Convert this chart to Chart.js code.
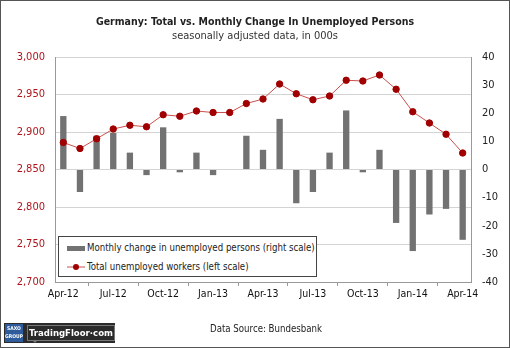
<!DOCTYPE html>
<html>
<head>
<meta charset="utf-8">
<script src="https://cdn.jsdelivr.net/npm/chart.js@4.4.1/dist/chart.umd.min.js"></script>
<style>
    html, body { margin: 0; padding: 0; background: #fff; }
    #wrap {
        position: relative; width: 510px; height: 348px; overflow: hidden;
        font-family: "DejaVu Sans Condensed", "Liberation Sans", sans-serif;
        color: #222;
    }
    #frame {
        position: absolute; left: 0; top: 0; width: 508px; height: 346px;
        border: 1px solid #555; pointer-events: none;
    }
    #title {
        position: absolute; left: 0; width: 510px; top: 15px; text-align: center;
        font-weight: bold; font-size: 10.5px;
    }
    #subtitle {
        position: absolute; left: 0; width: 510px; top: 29px; text-align: center;
        font-size: 11px; color: #333;
    }
    #legend {
        position: absolute; left: 58px; top: 236px; width: 259px; height: 41px;
        border: 1px solid #444; background: #fff; font-size: 9.6px; box-sizing: border-box;
    }
    .row { position: absolute; left: 8px; height: 14px; line-height: 14px; }
    .sym { position: absolute; left: 0; top: 0; width: 18px; height: 14px; }
    .lbl { position: absolute; left: 20px; top: 0; white-space: nowrap; }
    #source {
        position: absolute; left: 210px; top: 323px; font-size: 9.6px;
    }
    #logo {
        position: absolute; left: 4px; top: 323px; width: 111px; height: 20px; background: #2b2b2b;
    }
    #saxo {
        position: absolute; left: 1px; top: 1px; width: 18px; height: 18px; background: #2d5b9c;
        color: #fff; font-size: 5px; line-height: 8px; text-align: center; font-weight: bold;
    }
    #tf {
        position: absolute; left: 23px; top: 2px; width: 86px; height: 14px; border: 1px solid #777;
        color: #fff; font-size: 9.5px; line-height: 14px; text-align: center; font-weight: bold;
    }
    #notch {
        position: absolute; left: 28px; top: 17px; width: 0; height: 0;
        border-left: 3px solid transparent; border-right: 3px solid transparent; border-top: 3px solid #777;
    }
</style>
</head>
<body>
<div id="wrap">
    <canvas id="unemp_Chart" width="510" height="348"></canvas>
    <div id="title">Germany: Total vs. Monthly Change In Unemployed Persons</div>
    <div id="subtitle">seasonally adjusted data, in 000s</div>
    <div id="legend">
        <div class="row" style="top:4px">
            <svg class="sym"><rect x="0" y="5" width="18" height="5" fill="#727272"/></svg>
            <span class="lbl">Monthly change in unemployed persons (right scale)</span>
        </div>
        <div class="row" style="top:23px">
            <svg class="sym"><line x1="0" y1="7" x2="18" y2="7" stroke="#c9504d" stroke-width="1"/><circle cx="9" cy="7" r="3" fill="#a00000"/></svg>
            <span class="lbl">Total unemployed workers (left scale)</span>
        </div>
    </div>
    <div id="logo">
        <div id="saxo">SAXO<br>GROUP</div>
        <div id="tf">TradingFloor·com</div>
        <div id="notch"></div>
    </div>
    <div id="source">Data Source: Bundesbank</div>
    <div id="frame"></div>
</div>

<script>
// months from Apr-12 to Apr-14
const months = ["Apr-12", "May-12", "Jun-12", "Jul-12", "Aug-12", "Sep-12", "Oct-12", "Nov-12", "Dec-12",
    "Jan-13", "Feb-13", "Mar-13", "Apr-13", "May-13", "Jun-13", "Jul-13", "Aug-13", "Sep-13", "Oct-13",
    "Nov-13", "Dec-13", "Jan-14", "Feb-14", "Mar-14", "Apr-14"];

// total unemployed, thousands (left scale)
const totalUnemployed = [2886, 2878, 2891, 2904, 2909, 2907, 2923, 2921, 2928, 2926, 2926, 2938, 2944,
    2964, 2951, 2943, 2948, 2969, 2968, 2976, 2957, 2927, 2912, 2897, 2872];

// monthly change, thousands (right scale)
const monthlyChange = [19, -8, 12, 13, 6, -2, 15, -1, 6, -2, 0, 12, 7,
    18, -12, -8, 6, 21, -1, 7, -19, -29, -16, -14, -25];

const leftTicks = { min: 2700, max: 3000, step: 50 };
const rightTicks = { min: -40, max: 40, step: 10 };

const axisFont = '"DejaVu Sans Condensed", "Liberation Sans", sans-serif';

document.addEventListener("DOMContentLoaded", function() {

    const ctx = document.getElementById('unemp_Chart').getContext('2d');
    const unemp_Chart = new Chart(ctx, {
        type: 'bar',
        data: {
            labels: months,
            datasets: [{
                type: 'line',
                label: 'Total unemployed workers (left scale)',
                data: totalUnemployed,
                yAxisID: 'y',
                borderColor: '#c9504d',
                borderWidth: 1,
                pointRadius: 3.2,
                pointBackgroundColor: '#a00000',
                pointBorderColor: '#a00000',
                tension: 0,
                order: 1
            },
            {
                type: 'bar',
                label: 'Monthly change in unemployed persons (right scale)',
                data: monthlyChange,
                yAxisID: 'y1',
                backgroundColor: '#727272',
                barPercentage: 0.38,
                categoryPercentage: 1,
                order: 2
            }]
        },
        options: {
            responsive: false,
            animation: false,
            layout: { padding: { top: 57, bottom: 46, left: 0, right: 0 } },
            plugins: {
                legend: { display: false },
                tooltip: { enabled: false }
            },
            scales: {
                x: {
                    offset: true,
                    grid: {
                        offset: true,
                        drawOnChartArea: false,
                        tickLength: 4,
                        color: '#999'
                    },
                    border: { color: '#999' },
                    ticks: {
                        autoSkip: false,
                        maxRotation: 0,
                        padding: 2,
                        color: '#111',
                        font: { family: axisFont, size: 10.5 },
                        callback: function(value, index) {
                            // label only every third month
                            if (index % 3 === 0) {
                                return this.getLabelForValue(value);
                            }
                            return null;
                        }
                    },
                    afterFit: function(scale) { scale.height = 20; }
                },
                y: {
                    position: 'left',
                    min: leftTicks.min,
                    max: leftTicks.max,
                    ticks: {
                        stepSize: leftTicks.step,
                        padding: 10,
                        color: '#b0141a',
                        font: { family: axisFont, size: 11 },
                        callback: function(value) {
                            return value.toLocaleString('en-US');
                        }
                    },
                    grid: { color: '#d4d4d4', tickLength: 0 },
                    border: { color: '#999' },
                    afterFit: function(scale) { scale.width = 55; }
                },
                y1: {
                    position: 'right',
                    min: rightTicks.min,
                    max: rightTicks.max,
                    ticks: {
                        stepSize: rightTicks.step,
                        padding: 11,
                        color: '#222',
                        font: { family: axisFont, size: 11 }
                    },
                    grid: { drawOnChartArea: false, tickLength: 0 },
                    border: { color: '#999' },
                    afterFit: function(scale) { scale.width = 39; }
                }
            }
        }
    });

});
</script>
</body>
</html>
